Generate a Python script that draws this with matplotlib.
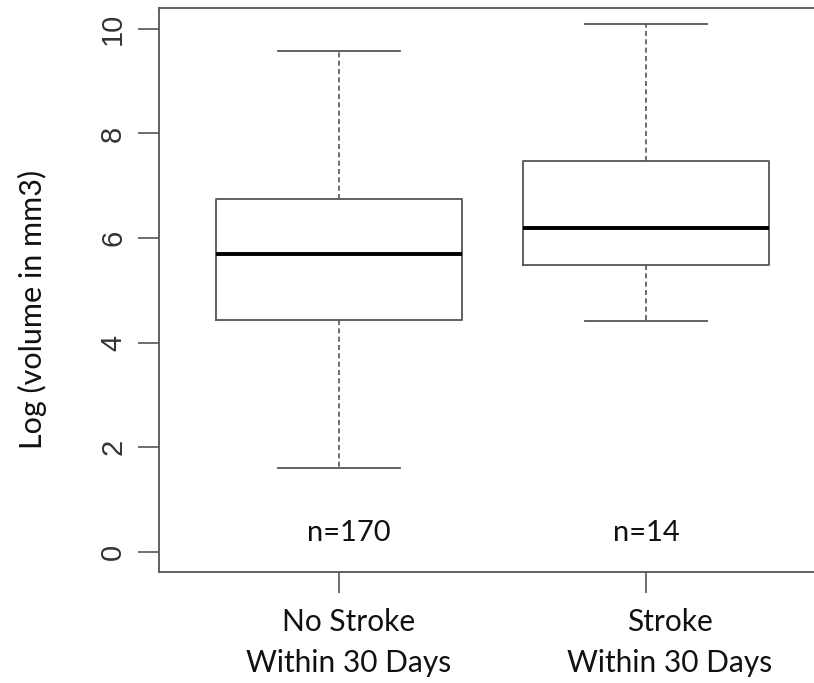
import matplotlib.pyplot as plt
from matplotlib.transforms import ScaledTranslation

# values
groups = ["No Stroke\nWithin 30 Days", "Stroke\nWithin 30 Days"]
counts = [170, 14]
whisk_lo = [1.60, 4.41]
q1 = [4.44, 5.48]
med = [5.69, 6.19]
q3 = [6.75, 7.48]
whisk_hi = [9.58, 10.09]
yticks = [0, 2, 4, 6, 8, 10]

gray = "#555555"

fig = plt.figure(figsize=(8.14, 6.83), dpi=100)
ax = fig.add_axes([159 / 814, 111 / 683, 680 / 814, 564 / 683])

stats = []
for i in range(len(groups)):
    stats.append({"whislo": whisk_lo[i], "q1": q1[i], "med": med[i],
                  "q3": q3[i], "whishi": whisk_hi[i], "fliers": []})

ax.bxp(stats, positions=[1, 2], widths=0.8, showfliers=False,
       boxprops=dict(color=gray, linewidth=1.3),
       medianprops=dict(color="black", linewidth=2.8),
       whiskerprops=dict(color=gray, linewidth=1.2, linestyle=(0, (3, 2))),
       capprops=dict(color=gray, linewidth=1.3),
       capwidths=0.4)

# the count labels sit a little off-centre in the original
n_shift = [7, 0]
for i, n in enumerate(counts):
    ax.annotate("n=%d" % n, (i + 1, 0.36), xytext=(n_shift[i], 0),
                textcoords="offset points", ha="center", va="center",
                fontsize=21, family="Lato", color="#111111")

ax.set_xlim(0.414, 0.414 + 680 / 307)
ax.set_ylim(-0.39, 10.4)
ax.set_yticks(yticks)
ax.set_yticklabels([str(v) for v in yticks], rotation=90, va="center",
                   fontsize=21, family="Liberation Sans", color="#333333")
ax.set_xticks([1, 2])
ax.set_xticklabels(groups, fontsize=21.5, family="Lato", color="#111111",
                   linespacing=1.55)
ax.tick_params(axis="both", length=15, width=1.2, color=gray)
ax.tick_params(axis="y", pad=8)
ax.tick_params(axis="x", pad=11)
lab_shift = [10, 24]
for lab, dx in zip(ax.get_xticklabels(), lab_shift):
    lab.set_transform(lab.get_transform() +
                      ScaledTranslation(dx / 100, 0, fig.dpi_scale_trans))
for s in ax.spines.values():
    s.set_color(gray)
    s.set_linewidth(1.3)
ax.spines["right"].set_visible(False)

ax.set_ylabel("Log (volume in mm3)", fontsize=22, family="Lato",
              color="#111111")
ax.yaxis.set_label_coords(-0.165, 0.465)

fig.savefig("out.png", dpi=100)
